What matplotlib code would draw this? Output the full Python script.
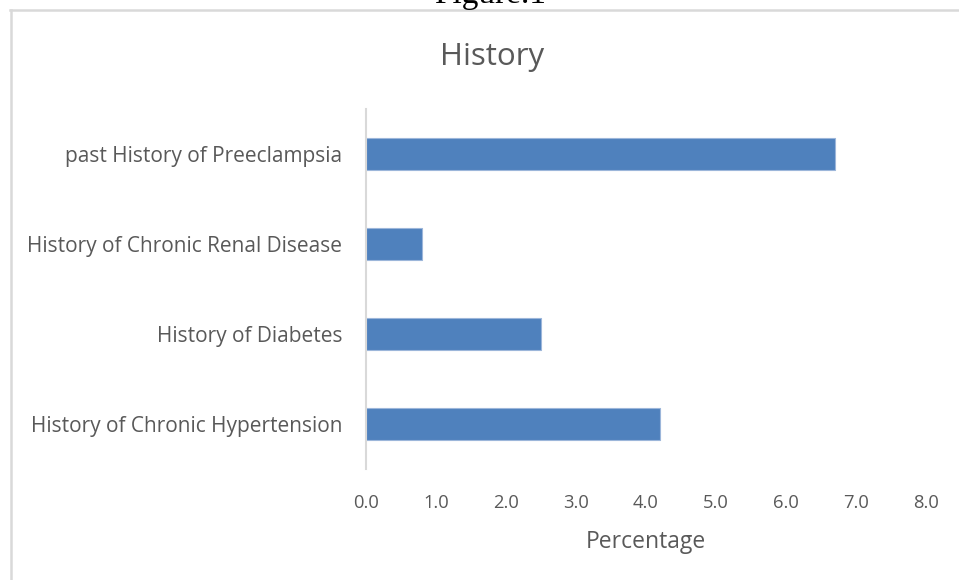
import matplotlib
matplotlib.use("Agg")
import matplotlib.pyplot as plt
from matplotlib.lines import Line2D

# Data
categories = [
    "History of Chronic Hypertension",
    "History of Diabetes",
    "History of Chronic Renal Disease",
    "past History of Preeclampsia",
]
percentages = [4.2, 2.5, 0.8, 6.7]
x_ticks = [0.0, 1.0, 2.0, 3.0, 4.0, 5.0, 6.0, 7.0, 8.0]

W, H = 959, 580
fig = plt.figure(figsize=(W / 100, H / 100), dpi=100)
fig.patch.set_facecolor("white")

text_color = "#595959"
font = "Open Sans"

# Caption above the chart frame (partly cut off by the top edge)
fig.text(490 / W, 1 - 2.5 / H, "Figure.1", family="Liberation Serif", fontsize=24,
         color="black", ha="center", va="baseline")

# Chart frame
frame_color = "#d9d9d9"
fig.add_artist(Line2D([10 / W, 1.0], [1 - 10 / H, 1 - 10 / H],
                      transform=fig.transFigure, color=frame_color, lw=1.8))
fig.add_artist(Line2D([10.5 / W, 10.5 / W], [0.0, 1 - 10 / H],
                      transform=fig.transFigure, color=frame_color, lw=1.8))

left, right, top, bottom = 366, 926, 109, 469
ax = fig.add_axes([left / W, 1 - bottom / H, (right - left) / W, (bottom - top) / H])

y = list(range(len(categories)))
ax.barh(y, percentages, height=0.355, color="#4f81bd",
        edgecolor="#9cb6da", linewidth=0.8)

ax.set_xlim(0, 8)
ax.set_ylim(-0.5, len(categories) - 0.5)
ax.set_xticks(x_ticks)
ax.set_xticklabels([f"{v:.1f}" for v in x_ticks], family=font, fontsize=13.2,
                   color=text_color)
ax.set_yticks(y)
ax.set_yticklabels(categories, family=font, fontsize=15, color=text_color)
ax.tick_params(axis="both", length=0)
ax.tick_params(axis="x", pad=18)
ax.tick_params(axis="y", pad=17)

for s in ["top", "right", "bottom"]:
    ax.spines[s].set_visible(False)
ax.spines["left"].set_color("#d9d9d9")
ax.spines["left"].set_linewidth(1.5)

ax.set_xlabel("Percentage", family=font, fontsize=16.5, color=text_color, labelpad=13)

fig.text(492 / W, 1 - 57 / H, "History", family=font, fontsize=22.5,
         color=text_color, ha="center", va="center")

fig.savefig("out.png", dpi=100, facecolor="white")
